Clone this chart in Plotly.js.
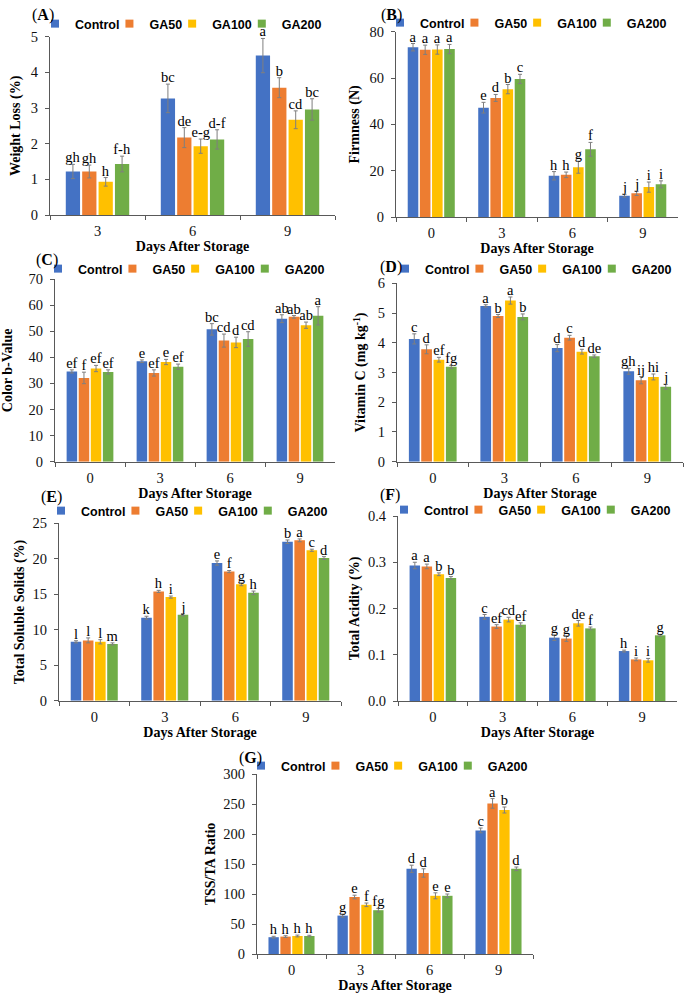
<!DOCTYPE html>
<html><head><meta charset="utf-8">
<script src="https://cdn.plot.ly/plotly-3.0.1.min.js"></script>
<style>html,body{margin:0;padding:0;background:#fff}</style>
</head><body><div id="chart" style="width:688px;height:1002px"></div>
<script>
// ---------------- DATA ----------------
const seriesNames = ['Control', 'GA50', 'GA100', 'GA200'];
const daysA = ['3', '6', '9'];
const days = ['0', '3', '6', '9'];

// (A) Weight loss (%) — rows: Control, GA50, GA100, GA200
const wlMean = [[1.22, 3.27, 4.47], [1.22, 2.17, 3.57], [0.93, 1.93, 2.67], [1.43, 2.12, 2.96]];
const wlErr = [[0.20, 0.40, 0.48], [0.18, 0.28, 0.28], [0.12, 0.20, 0.25], [0.22, 0.27, 0.30]];
const wlLetters = [['gh', 'bc', 'a'], ['gh', 'de', 'b'], ['h', 'e-g', 'cd'], ['f-h', 'd-f', 'bc']];

// (B) Firmness (N)
const fiMean = [[73.3, 47.2, 17.8, 9.2], [72.2, 51.4, 18.2, 10.2], [72.3, 55.2, 21.5, 12.9], [72.5, 59.6, 29.2, 14.1]];
const fiErr = [[1.6, 2.3, 1.8, 0.6], [2.0, 1.5, 1.2, 0.9], [2.0, 2.0, 2.6, 2.2], [2.0, 2.0, 3.0, 1.5]];
const fiLetters = [['a', 'e', 'h', 'j'], ['a', 'd', 'h', 'j'], ['a', 'b', 'g', 'i'], ['a', 'c', 'f', 'i']];

// (C) Color b-value
const cbMean = [[34.6, 38.5, 50.7, 54.8], [32.1, 34.0, 46.4, 55.5], [35.7, 38.2, 45.7, 52.3], [34.4, 36.4, 47.0, 55.9]];
const cbErr = [[0.6, 0.5, 2.2, 1.5], [2.2, 1.2, 2.5, 0.5], [1.2, 1.0, 2.0, 1.2], [0.8, 1.0, 2.8, 3.5]];
const cbLetters = [['ef', 'e', 'bc', 'ab'], ['f', 'ef', 'cd', 'ab'], ['ef', 'e', 'd', 'ab'], ['ef', 'ef', 'cd', 'a']];

// (D) Vitamin C (mg kg-1)
const vcMean = [[4.13, 5.24, 3.82, 3.04], [3.78, 4.90, 4.17, 2.74], [3.43, 5.42, 3.70, 2.85], [3.19, 4.87, 3.55, 2.52]];
const vcErr = [[0.17, 0.04, 0.12, 0.10], [0.15, 0.05, 0.08, 0.12], [0.08, 0.12, 0.08, 0.10], [0.05, 0.10, 0.04, 0.08]];
const vcLetters = [['c', 'a', 'd', 'gh'], ['d', 'b', 'c', 'ij'], ['ef', 'a', 'd', 'hi'], ['fg', 'b', 'de', 'j']];

// (E) Total soluble solids (%)
const tssMean = [[8.3, 11.7, 19.4, 22.4], [8.5, 15.4, 18.2, 22.6], [8.3, 14.6, 16.4, 21.2], [8.0, 12.1, 15.2, 20.1]];
const tssErr = [[0.15, 0.2, 0.3, 0.25], [0.35, 0.15, 0.15, 0.2], [0.3, 0.15, 0.2, 0.15], [0.15, 0.15, 0.25, 0.2]];
const tssLetters = [['l', 'k', 'e', 'b'], ['l', 'h', 'f', 'a'], ['l', 'i', 'g', 'c'], ['m', 'j', 'h', 'd']];

// (F) Total acidity (%)
const taMean = [[0.293, 0.182, 0.137, 0.108], [0.291, 0.161, 0.135, 0.090], [0.274, 0.176, 0.168, 0.088], [0.266, 0.165, 0.157, 0.142]];
const taErr = [[0.007, 0.005, 0.006, 0.002], [0.005, 0.004, 0.006, 0.003], [0.003, 0.005, 0.006, 0.004], [0.003, 0.004, 0.003, 0.002]];
const taLetters = [['a', 'c', 'g', 'h'], ['a', 'ef', 'g', 'i'], ['b', 'cd', 'de', 'i'], ['b', 'ef', 'f', 'g']];

// (G) TSS/TA ratio
const ratioMean = [[28, 64, 142, 206], [29, 95, 135, 251], [30, 82, 97, 240], [30, 73, 97, 142]];
const ratioErr = [[1.5, 2.5, 6, 4], [1.5, 3, 7, 8], [1.5, 3, 5, 5], [1.2, 3, 3, 3]];
const ratioLetters = [['h', 'g', 'd', 'c'], ['h', 'e', 'd', 'a'], ['h', 'f', 'e', 'b'], ['h', 'fg', 'e', 'd']];

const yTitles = ['Weight Loss (%)', 'Firmness (N)', 'Color b-Value', 'Vitamin C (mg kg<sup>-1</sup>)',
  'Total Soluble Solids (%)', 'Total Acidity (%)', 'TSS/TA Ratio'];
const panelLabels = ['A', 'B', 'C', 'D', 'E', 'F', 'G'];
const xTitle = 'Days After Storage';

// ---------------- STYLE / LAYOUT CONFIG ----------------
const W = 688, H = 1002;
const colors = ['#4472C4', '#ED7D31', '#FFC000', '#70AD47'];
const serif = 'Liberation Serif, Times New Roman, serif';
const sans = 'Liberation Sans, Arial, sans-serif';
const axisColor = '#595959';
const letterDropPx = 4;   // letters sit this many px closer to the error-bar cap than Plotly's default

const panels = [
  {cats: daysA, mean: wlMean, err: wlErr, letters: wlLetters, range: [0, 5], dtick: 1, fmt: '',
   box: [50, 335, 36.7, 215], leg: [50, 24], lab: [43, 15], ystand: 6},
  {cats: days, mean: fiMean, err: fiErr, letters: fiLetters, range: [0, 80], dtick: 20, fmt: '',
   box: [396, 678, 31.7, 217], leg: [395, 23], lab: [391, 15], ystand: 6},
  {cats: days, mean: cbMean, err: cbErr, letters: cbLetters, range: [0, 70], dtick: 10, fmt: '',
   box: [55, 335, 279, 461.7], leg: [53, 269], lab: [47, 260], ystand: 12},
  {cats: days, mean: vcMean, err: vcErr, letters: vcLetters, range: [0, 6], dtick: 1, fmt: '',
   box: [397, 683, 283.3, 461.7], leg: [400, 269], lab: [391, 267], ystand: 8},
  {cats: days, mean: tssMean, err: tssErr, letters: tssLetters, range: [0, 25], dtick: 5, fmt: '',
   box: [59, 341, 523.3, 700.7], leg: [56, 511], lab: [51, 497], ystand: 4},
  {cats: days, mean: taMean, err: taErr, letters: taLetters, range: [0, 0.4], dtick: 0.1, fmt: '.1f',
   box: [398, 677, 516, 701], leg: [399, 510], lab: [390, 495], ystand: 5},
  {cats: days, mean: ratioMean, err: ratioErr, letters: ratioLetters, range: [0, 300], dtick: 50, fmt: '',
   box: [257, 533, 774, 954], leg: [256, 766], lab: [250, 758], ystand: 4}
];

const traces = [];
const layout = {
  width: W, height: H,
  margin: {l: 0, r: 0, t: 0, b: 0},
  paper_bgcolor: '#ffffff', plot_bgcolor: 'rgba(0,0,0,0)',
  barmode: 'group', bargap: 0.31, bargroupgap: 0.13,
  font: {family: serif, color: '#000'},
  showlegend: true,
  annotations: []
};

panels.forEach((p, i) => {
  const s = i === 0 ? '' : String(i + 1);
  const xa = 'x' + s, ya = 'y' + s;
  const legId = 'legend' + s;
  const [x0, x1, yt, yb] = p.box;
  const unitsPerPx = (p.range[1] - p.range[0]) / (yb - yt);
  p.mean.forEach((vals, j) => {
    traces.push({
      type: 'bar', x: p.cats, y: vals, name: seriesNames[j],
      xaxis: xa, yaxis: ya, offsetgroup: 'g' + j, showlegend: false,
      marker: {color: colors[j], line: {width: 0}},
      error_y: {type: 'data', array: p.err[j], visible: true, color: '#7f7f7f', thickness: 1, width: 2},
      hovertemplate: seriesNames[j] + ': %{y}<extra></extra>'
    });
    // transparent carrier bar (same slot) whose outside text shows the significance letters
    traces.push({
      type: 'bar', x: p.cats, y: vals.map((v, k) => v + p.err[j][k] - letterDropPx * unitsPerPx),
      xaxis: xa, yaxis: ya, offsetgroup: 'g' + j, showlegend: false,
      marker: {color: 'rgba(0,0,0,0)', line: {width: 0}},
      text: p.letters[j], textposition: 'outside', textangle: 0, constraintext: 'none', cliponaxis: false,
      textfont: {family: serif, size: 14.5, color: '#000'},
      hoverinfo: 'skip'
    });
  });
  // legend entries (small square keys like the original)
  seriesNames.forEach((nm, j) => {
    traces.push({
      type: 'scatter', mode: 'markers', x: [null], y: [null], name: nm,
      xaxis: xa, yaxis: ya, legend: legId, showlegend: true,
      marker: {symbol: 'square', size: 8, color: colors[j], line: {width: 0}},
      hoverinfo: 'skip'
    });
  });
  layout['xaxis' + s] = {
    domain: [x0 / W, x1 / W], anchor: ya, type: 'category',
    showline: true, linecolor: axisColor, linewidth: 1,
    ticks: 'outside', tickson: 'boundaries', ticklen: 4, tickcolor: axisColor,
    tickfont: {family: serif, size: 14.5, color: '#111'}, ticklabelstandoff: 3,
    showgrid: false, zeroline: false, fixedrange: true,
    title: {text: xTitle, font: {family: serif, size: 14, weight: 'bold', color: '#000'}, standoff: 0}
  };
  layout['yaxis' + s] = {
    domain: [1 - yb / H, 1 - yt / H], anchor: xa,
    range: p.range, tick0: 0, dtick: p.dtick, tickformat: p.fmt,
    showline: true, linecolor: axisColor, linewidth: 1,
    ticks: 'outside', ticklen: 4, tickcolor: axisColor,
    tickfont: {family: serif, size: 14.5, color: '#111'}, ticklabelstandoff: 4,
    showgrid: false, zeroline: false, fixedrange: true,
    title: {text: '<b>' + yTitles[i] + '</b>', font: {family: serif, size: 14, weight: 'bold', color: '#000'}, standoff: p.ystand}
  };
  layout[legId] = {
    orientation: 'h', xref: 'paper', yref: 'paper',
    x: p.leg[0] / W, xanchor: 'left', y: 1 - p.leg[1] / H, yanchor: 'middle',
    font: {family: sans, size: 12.5, weight: 'bold', color: '#000'},
    bgcolor: 'rgba(0,0,0,0)', borderwidth: 0, itemwidth: 30, indentation: -15,
    tracegroupgap: 0, traceorder: 'normal', itemclick: false, itemdoubleclick: false
  };
  layout.annotations.push({
    xref: 'paper', yref: 'paper', x: p.lab[0] / W, y: 1 - p.lab[1] / H,
    xanchor: 'center', yanchor: 'middle', showarrow: false,
    text: '(<b>' + panelLabels[i] + '</b>)', font: {family: serif, size: 16, color: '#000'}
  });
});

Plotly.newPlot('chart', traces, layout, {displayModeBar: false});
</script>
</body></html>
